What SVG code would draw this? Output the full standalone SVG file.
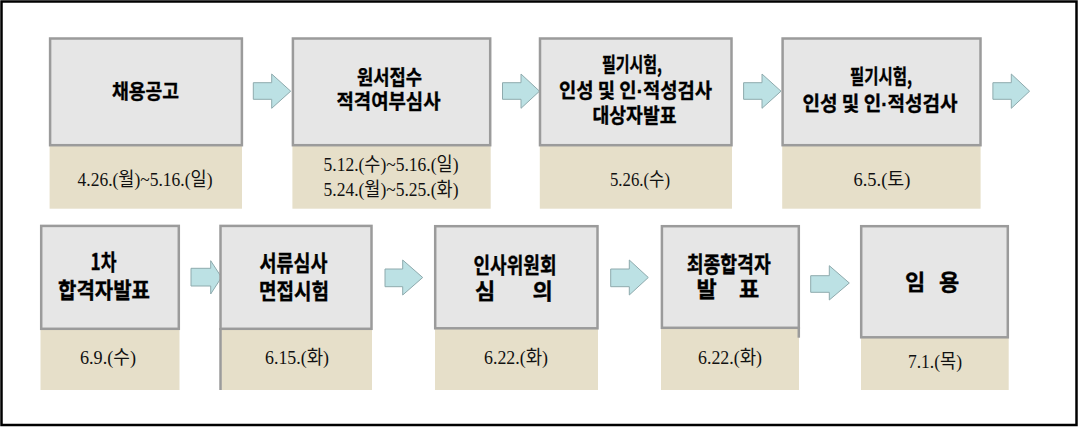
<svg xmlns="http://www.w3.org/2000/svg" width="1079" height="428" viewBox="0 0 1079 428">
<style>
.frame{fill:#ffffff;stroke:#000000;stroke-width:2.5}
.box{fill:#e6e6e6;stroke:#9b9b9b;stroke-width:2.5}
.edge{stroke:#9b9b9b;stroke-width:2.5;fill:none}
.date{fill:#e6dfc9}
.arrow{fill:#bce1e4;stroke:#8eaaad;stroke-width:1}
.t1{font-family:"Noto Sans CJK KR","Noto Sans",sans-serif;font-weight:bold;font-size:20px;fill:#000;stroke:#000;stroke-width:0.35;text-anchor:middle}
.t2{font-family:"Noto Sans CJK KR","Noto Sans",sans-serif;font-weight:bold;font-size:22px;fill:#000;stroke:#000;stroke-width:0.35;text-anchor:middle}
.d{font-family:"Liberation Serif","Noto Sans CJK KR",serif;font-size:19px;fill:#111;text-anchor:middle}
.dot{font-family:"Liberation Sans",sans-serif}
</style>
<rect class="frame" x="1.5" y="1.5" width="1075" height="423.5"/>
<g id="connectors">
<polygon class="arrow" points="253.3,82.7 271.7,82.7 271.7,74 290.7,91.2 271.7,108.3 271.7,99.3 253.3,99.3"/>
<polygon class="arrow" points="502.5,82.7 521,82.7 521,74 539.5,91.2 521,108.3 521,99.3 502.5,99.3"/>
<polygon class="arrow" points="743.6,82.7 762,82.7 762,74 781,91.2 762,108.3 762,99.3 743.6,99.3"/>
<polygon class="arrow" points="992.9,82.7 1011.3,82.7 1011.3,74 1029.6,91.2 1011.3,108.3 1011.3,99.3 992.9,99.3"/>
<polygon class="arrow" points="191,268.3 210.7,268.3 210.7,260.7 221.5,277.3 210.7,294 210.7,286 191,286"/>
<polygon class="arrow" points="385,269 402.7,269 402.7,260 422.7,277.5 402.7,295 402.7,286.7 385,286.7"/>
<polygon class="arrow" points="610.7,269 629.3,269 629.3,260 648.3,277.5 629.3,295 629.3,286.7 610.7,286.7"/>
<polygon class="arrow" points="810.7,275.7 829.3,275.7 829.3,265.7 849.3,283 829.3,300 829.3,292.3 810.7,292.3"/>
</g>
<g id="n1">
<rect class="date" x="49.6" y="145" width="192.4" height="63.7"/>
<rect class="box" x="50.1" y="38.5" width="191.8" height="106.7"/>
<text class="t1" x="145.5" y="99" textLength="67" lengthAdjust="spacingAndGlyphs">채용공고</text>
<text class="d" x="145" y="186" textLength="135" lengthAdjust="spacingAndGlyphs">4.26.(월)~5.16.(일)</text>
</g>
<g id="n2">
<rect class="date" x="292.4" y="145" width="198.3" height="63.7"/>
<rect class="box" x="292.9" y="38.5" width="197.3" height="106.7"/>
<text class="t1" x="389.5" y="84.5" textLength="65" lengthAdjust="spacingAndGlyphs">원서접수</text>
<text class="t1" x="388.5" y="108.5" textLength="104" lengthAdjust="spacingAndGlyphs">적격여부심사</text>
<text class="d" x="391" y="170.5" textLength="135" lengthAdjust="spacingAndGlyphs">5.12.(수)~5.16.(일)</text>
<text class="d" x="391" y="195.5" textLength="135" lengthAdjust="spacingAndGlyphs">5.24.(월)~5.25.(화)</text>
</g>
<g id="n3">
<rect class="date" x="539.8" y="145" width="192.2" height="63.7"/>
<rect class="box" x="540" y="38.5" width="191.5" height="106.7"/>
<text class="t1" x="632" y="72" textLength="60" lengthAdjust="spacingAndGlyphs">필기시험,</text>
<text class="t1" x="635.5" y="98" textLength="153" lengthAdjust="spacingAndGlyphs">인성  및  인<tspan class="dot">·</tspan>적성검사</text>
<text class="t1" x="634.5" y="123" textLength="84" lengthAdjust="spacingAndGlyphs">대상자발표</text>
<text class="d" x="640" y="186" textLength="60" lengthAdjust="spacingAndGlyphs">5.26.(수)</text>
</g>
<g id="n4">
<rect class="date" x="782.2" y="145" width="198.4" height="63.7"/>
<rect class="box" x="782.6" y="38.5" width="197.9" height="106.7"/>
<text class="t1" x="881" y="84" textLength="62" lengthAdjust="spacingAndGlyphs">필기시험,</text>
<text class="t1" x="880" y="111" textLength="155" lengthAdjust="spacingAndGlyphs">인성  및  인<tspan class="dot">·</tspan>적성검사</text>
<text class="d" x="882" y="186" textLength="57" lengthAdjust="spacingAndGlyphs">6.5.(토)</text>
</g>
<g id="n5">
<rect class="date" x="40.5" y="329" width="139" height="61"/>
<rect class="box" x="41.2" y="225.9" width="137.6" height="102.9"/>
<text class="t2" x="103.5" y="269.5" textLength="26" lengthAdjust="spacingAndGlyphs">1차</text>
<text class="t2" x="104" y="298" textLength="92" lengthAdjust="spacingAndGlyphs">합격자발표</text>
<text class="d" x="108" y="364" textLength="56" lengthAdjust="spacingAndGlyphs">6.9.(수)</text>
</g>
<g id="n6">
<rect class="date" x="221" y="329" width="151" height="61"/>
<rect class="box" x="220.5" y="225.9" width="151" height="102.9"/>
<line class="edge" x1="220.5" y1="328" x2="220.5" y2="390"/>
<text class="t2" x="293.5" y="270.5" textLength="68" lengthAdjust="spacingAndGlyphs">서류심사</text>
<text class="t2" x="294" y="298.5" textLength="70" lengthAdjust="spacingAndGlyphs">면접시험</text>
<text class="d" x="297" y="364" textLength="64" lengthAdjust="spacingAndGlyphs">6.15.(화)</text>
</g>
<g id="n7">
<rect class="date" x="435" y="329" width="163" height="61"/>
<rect class="box" x="435.2" y="226.2" width="162.3" height="102.1"/>
<text class="t2" x="515" y="273" textLength="83" lengthAdjust="spacingAndGlyphs">인사위원회</text>
<text class="t2" x="485" y="299">심</text>
<text class="t2" x="542.5" y="299">의</text>
<text class="d" x="516" y="364" textLength="64" lengthAdjust="spacingAndGlyphs">6.22.(화)</text>
</g>
<g id="n8">
<rect class="date" x="661" y="329" width="138" height="61"/>
<rect class="box" x="661.9" y="226.2" width="136.9" height="101.6"/>
<line class="edge" x1="798.8" y1="327" x2="798.8" y2="337.7"/>
<text class="t2" x="728.7" y="272" textLength="84" lengthAdjust="spacingAndGlyphs">최종합격자</text>
<text class="t2" x="706.5" y="296.5">발</text>
<text class="t2" x="749" y="296.5">표</text>
<text class="d" x="730" y="364" textLength="64" lengthAdjust="spacingAndGlyphs">6.22.(화)</text>
</g>
<g id="n9">
<rect class="date" x="861" y="337" width="147.7" height="53"/>
<rect class="box" x="861.2" y="226.2" width="146.6" height="111.1"/>
<text class="t2" x="915" y="290">임</text>
<text class="t2" x="949" y="290">용</text>
<text class="d" x="935" y="368" textLength="54" lengthAdjust="spacingAndGlyphs">7.1.(목)</text>
</g>
</svg>
